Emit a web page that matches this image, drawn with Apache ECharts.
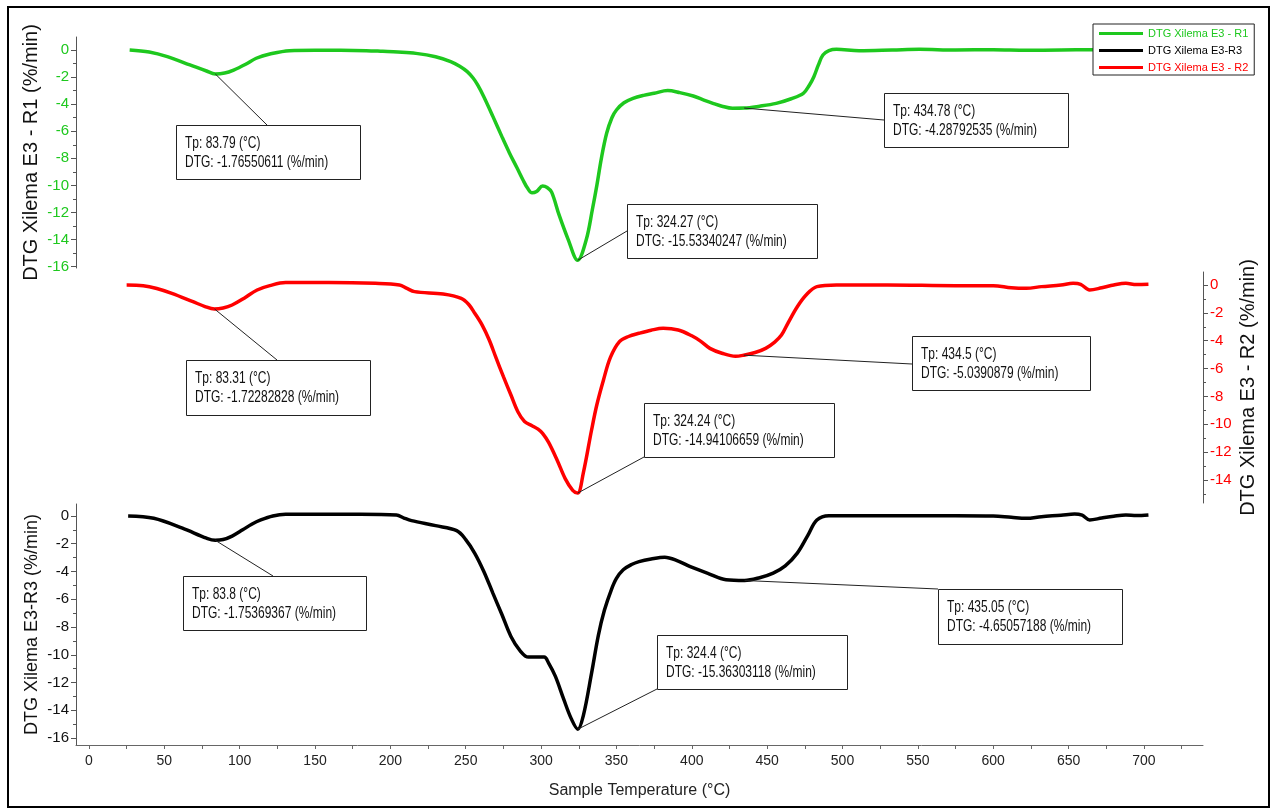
<!DOCTYPE html>
<html>
<head>
<meta charset="utf-8">
<title>DTG Xilema E3</title>
<script src="https://cdn.jsdelivr.net/npm/echarts@6/dist/echarts.min.js"></script>
<style>
  html, body { margin: 0; padding: 0; background: #ffffff; }
  #chart { width: 1277px; height: 811px; }
</style>
</head>
<body>
<div id="chart"></div>
<script>
// ---- Data: [temperature (°C), DTG (%/min)] ----
const dtgR1 = [
  [27,0],[40,-0.15],[52,-0.49],[67,-1.1],[78,-1.55],[83.79,-1.76550611],[90,-1.7],[96,-1.48],
  [104,-1.05],[111,-0.61],[120,-0.3],[133,-0.05],[150,-0.02],[184,-0.05],[195,-0.1],[205,-0.15],
  [217,-0.25],[230,-0.5],[240,-0.86],[246,-1.2],[251,-1.6],[255,-2.09],[258,-2.6],[262,-3.45],
  [268,-4.9],[274,-6.4],[279,-7.6],[284,-8.7],[288,-9.6],[291,-10.2],[294,-10.55],[297,-10.45],
  [301,-10.05],[304,-10.15],[307,-10.5],[312,-12.2],[318,-14.0],[324.27,-15.53340247],[330,-14.0],
  [334,-11.8],[337,-10.0],[340,-8.0],[343.5,-6.15],[347,-5.0],[350,-4.43],[355,-3.9],[361,-3.57],
  [368,-3.35],[375,-3.2],[384,-3.0],[392,-3.15],[401,-3.4],[408,-3.7],[414,-3.94],[420,-4.15],
  [427,-4.3],[434.78,-4.28792535],[445,-4.15],[456,-3.94],[466,-3.6],[474,-3.2],[478,-2.6],
  [481,-1.97],[484,-1.1],[487,-0.37],[491,-0.05],[496,0.05],[511,-0.05],[533,0],[551,0.05],
  [575,0],[600,0.02],[622,-0.02],[645,0],[665,0.02],[685,0],[705,0]
];
const dtgR2 = [
  [25,0],[36,-0.05],[45,-0.25],[55,-0.6],[69,-1.2],[77,-1.55],[83.31,-1.72282828],[89,-1.65],
  [95,-1.44],[103,-0.95],[111.6,-0.36],[120,-0.05],[130.5,0.17],[159,0.18],[190,0.12],[206,0],
  [211,-0.25],[216,-0.48],[235,-0.65],[247,-0.96],[252,-1.4],[256,-2.03],[261,-2.9],[265.6,-3.95],
  [270,-5.2],[275,-6.58],[280,-7.9],[284.6,-9.1],[289,-9.8],[294,-10.1],[298,-10.35],[301,-10.65],
  [305,-11.3],[310.6,-12.56],[316,-13.9],[321,-14.75],[324.24,-14.94106659],[328,-13.5],
  [333.5,-10.41],[337,-8.6],[341.4,-6.82],[346,-5.2],[352,-4.07],[358,-3.7],[365,-3.47],
  [373,-3.25],[381,-3.11],[391,-3.23],[400,-3.65],[406,-4.05],[412,-4.55],[420,-4.9],[429,-5.12],
  [434.5,-5.0390879],[442,-4.85],[449,-4.55],[455,-4.1],[459.5,-3.6],[464,-2.7],[470,-1.56],
  [476,-0.7],[483,-0.12],[496,0],[530,0],[575,-0.05],[600,-0.05],[612,-0.2],[622,-0.24],
  [632,-0.12],[645,0],[653,0.12],[658,0.05],[664,-0.36],[672,-0.2],[680,0],[688,0.12],[695,0.03],
  [703,0.05]
];
const dtgR3 = [
  [26,0],[43,-0.17],[62,-0.88],[78,-1.6],[83.8,-1.75369367],[89,-1.7],[95,-1.45],[102,-1.0],
  [108,-0.6],[114,-0.29],[122,0],[130.5,0.12],[180,0.13],[204,0.07],[209,-0.15],[214,-0.34],
  [230,-0.7],[244,-1.06],[250,-1.7],[256,-2.69],[262,-4.0],[268,-5.56],[274,-7.1],[280,-8.68],
  [286,-9.7],[291.6,-10.17],[302,-10.17],[305,-10.6],[309.5,-11.56],[315,-13.2],[320,-14.6],
  [324.4,-15.36303118],[328,-14.4],[333.5,-11.32],[338,-8.6],[342,-6.8],[346.6,-5.32],[350,-4.5],
  [354.5,-3.88],[360,-3.5],[365,-3.29],[373,-3.1],[382,-2.97],[391,-3.25],[399,-3.65],[411,-4.15],
  [422.7,-4.6],[435.05,-4.65057188],[445,-4.45],[454,-4.12],[462,-3.6],[470,-2.68],[477,-1.4],
  [483,-0.29],[491,0.02],[530,0.02],[575,0.02],[600,0],[612,-0.1],[622,-0.17],[632,-0.05],
  [645,0.05],[654,0.14],[659,0.05],[664,-0.29],[672,-0.15],[680,-0.02],[688,0.07],[695,0.03],
  [703,0.07]
];

// Peak readouts [Tp (°C), DTG (%/min)]
const peaksR1 = [[83.79,-1.76550611],[324.27,-15.53340247],[434.78,-4.28792535]];
const peaksR2 = [[83.31,-1.72282828],[324.24,-14.94106659],[434.5,-5.0390879]];
const peaksR3 = [[83.8,-1.75369367],[324.4,-15.36303118],[435.05,-4.65057188]];

// Tick values
const tempTicks = [0,50,100,150,200,250,300,350,400,450,500,550,600,650,700];
const tempTickMarks = [0,25,50,75,100,125,150,175,200,225,250,275,300,325,350,375,400,425,450,475,500,525,550,575,600,625,650,675,700,725];
const dtgTicks16 = [0,-2,-4,-6,-8,-10,-12,-14,-16];
const dtgTicks14 = [0,-2,-4,-6,-8,-10,-12,-14];
const dtgMinorTicks = [-1,-3,-5,-7,-9,-11,-13,-15];

const names = ['DTG Xilema E3 - R1', 'DTG Xilema E3-R3', 'DTG Xilema E3 - R2'];

// ---- Styling / layout ----
const FONT = '"Liberation Sans", Arial, sans-serif';
const GREEN = '#1ec81e';
const RED = '#ff0000';
const BLACK = '#000000';
const AXIS_GREY = '#555555';
const X_MIN = -8.6, X_MAX = 739.2;

const grids = [
  { left: 76, right: 74, top: 37, height: 231 },
  { left: 76, right: 74, top: 272, height: 231 },
  { left: 76, right: 74, top: 504, height: 241 }
];

function xAxisFor(gridIndex, visible) {
  return {
    gridIndex, type: 'value', min: X_MIN, max: X_MAX, show: visible,
    splitLine: { show: false },
    axisLine: { show: true, onZero: false, lineStyle: { color: '#666', width: 1 } },
    axisTick: { show: true, customValues: tempTickMarks, length: 4, lineStyle: { color: '#666' } },
    axisLabel: { customValues: tempTicks, color: '#222', fontSize: 14, fontFamily: FONT, margin: 9 },
    name: visible ? 'Sample Temperature (°C)' : '',
    nameLocation: 'middle', nameGap: 38, nameMoveOverlap: false,
    nameTextStyle: { color: '#222', fontSize: 16, fontFamily: FONT }
  };
}

function yMajor(gridIndex, min, max, pos, ticks, color, title, gap, fontSize) {
  return {
    gridIndex, type: 'value', min, max, position: pos,
    splitLine: { show: false },
    axisLine: { show: true, onZero: false, lineStyle: { color: AXIS_GREY, width: 1 } },
    axisTick: { show: true, customValues: ticks, length: 5, lineStyle: { color: AXIS_GREY } },
    axisLabel: { customValues: ticks, color, fontSize: 15, fontFamily: FONT, margin: 7 },
    name: title, nameLocation: 'middle', nameGap: gap, nameRotate: 90, nameMoveOverlap: false,
    nameTextStyle: { color: '#111', fontSize, fontFamily: FONT }
  };
}

function yMinor(gridIndex, min, max, pos) {
  return {
    gridIndex, type: 'value', min, max, position: pos,
    splitLine: { show: false },
    axisLine: { show: false, onZero: false },
    axisTick: { show: true, customValues: dtgMinorTicks, length: 3, lineStyle: { color: AXIS_GREY } },
    axisLabel: { show: false }
  };
}

const chart = echarts.init(document.getElementById('chart'), null, { renderer: 'canvas' });

function lineSeries(name, data, xi, yi, color) {
  return {
    name, type: 'line', data, xAxisIndex: xi, yAxisIndex: yi,
    showSymbol: false, smooth: 0.35,
    lineStyle: { color, width: 3.5 }, itemStyle: { color }, z: 3
  };
}

chart.setOption({
  animation: false,
  backgroundColor: '#ffffff',
  grid: grids,
  xAxis: [xAxisFor(0, false), xAxisFor(1, false), xAxisFor(2, true)],
  yAxis: [
    yMajor(0, -16.1, 0.96, 'left', dtgTicks16, GREEN, 'DTG Xilema E3 - R1 (%/min)', 35, 20),
    yMinor(0, -16.1, 0.96, 'left'),
    yMajor(1, -15.65, 0.93, 'right', dtgTicks14, RED, 'DTG Xilema E3 - R2 (%/min)', 35, 20),
    yMinor(1, -15.65, 0.93, 'right'),
    yMajor(2, -16.5, 0.86, 'left', dtgTicks16, '#111', 'DTG Xilema E3-R3 (%/min)', 35, 18),
    yMinor(2, -16.5, 0.86, 'left')
  ],
  legend: {
    orient: 'vertical', left: 1093, top: 24,
    backgroundColor: '#ffffff', borderColor: '#222', borderWidth: 1,
    padding: [4, 6, 2, 6], itemWidth: 44, itemHeight: 3, itemGap: 6,
    selectedMode: false,
    textStyle: { fontSize: 11, fontFamily: FONT },
    data: [
      { name: names[0], icon: 'rect', textStyle: { color: GREEN } },
      { name: names[1], icon: 'rect', textStyle: { color: BLACK } },
      { name: names[2], icon: 'rect', textStyle: { color: RED } }
    ]
  },
  series: [
    lineSeries(names[0], dtgR1, 0, 0, GREEN),
    lineSeries(names[2], dtgR2, 1, 2, RED),
    lineSeries(names[1], dtgR3, 2, 4, BLACK)
  ]
});

// Peak callout boxes: box [x, y, w, h] and where the leader line meets the box
const callouts = [
  { peaks: peaksR1, xi: 0, yi: 0, layout: [
    { box: [176, 125, 184, 54], end: [267, 125] },
    { box: [627, 204, 190, 54], end: [627, 231] },
    { box: [884, 93, 184, 54], end: [884, 120] } ] },
  { peaks: peaksR2, xi: 1, yi: 2, layout: [
    { box: [186, 360, 184, 55], end: [277, 360] },
    { box: [644, 403, 190, 54], end: [644, 457] },
    { box: [912, 336, 178, 54], end: [912, 364] } ] },
  { peaks: peaksR3, xi: 2, yi: 4, layout: [
    { box: [183, 576, 183, 54], end: [273, 576] },
    { box: [657, 635, 190, 54], end: [657, 689] },
    { box: [938, 589, 184, 55], end: [938, 589] } ] }
];

const graphics = [];
callouts.forEach(set => {
  set.peaks.forEach((p, i) => {
    const pt = chart.convertToPixel({ xAxisIndex: set.xi, yAxisIndex: set.yi }, p);
    const L = set.layout[i];
    graphics.push({
      type: 'line', z: 50, silent: true,
      shape: { x1: pt[0], y1: pt[1], x2: L.end[0], y2: L.end[1] },
      style: { stroke: '#222', lineWidth: 1 }
    });
    graphics.push({
      type: 'rect', z: 51, silent: true,
      shape: { x: L.box[0] + 0.5, y: L.box[1] + 0.5, width: L.box[2], height: L.box[3] },
      style: { fill: '#ffffff', stroke: '#222', lineWidth: 1 }
    });
    const lines = ['Tp: ' + p[0] + ' (°C)', 'DTG: ' + p[1] + ' (%/min)'];
    lines.forEach((t, k) => {
      graphics.push({
        type: 'text', z: 52, silent: true,
        x: L.box[0] + 9, y: L.box[1] + 19 + k * 19, scaleY: 1.3,
        style: { text: t, font: '12px ' + FONT, fill: '#111', verticalAlign: 'middle', align: 'left' }
      });
    });
  });
});

// outer frame
graphics.push({
  type: 'rect', z: 60, silent: true,
  shape: { x: 8, y: 7, width: 1261, height: 800 },
  style: { fill: 'none', stroke: '#000', lineWidth: 2 }
});

chart.setOption({ graphic: graphics });
</script>
</body>
</html>
